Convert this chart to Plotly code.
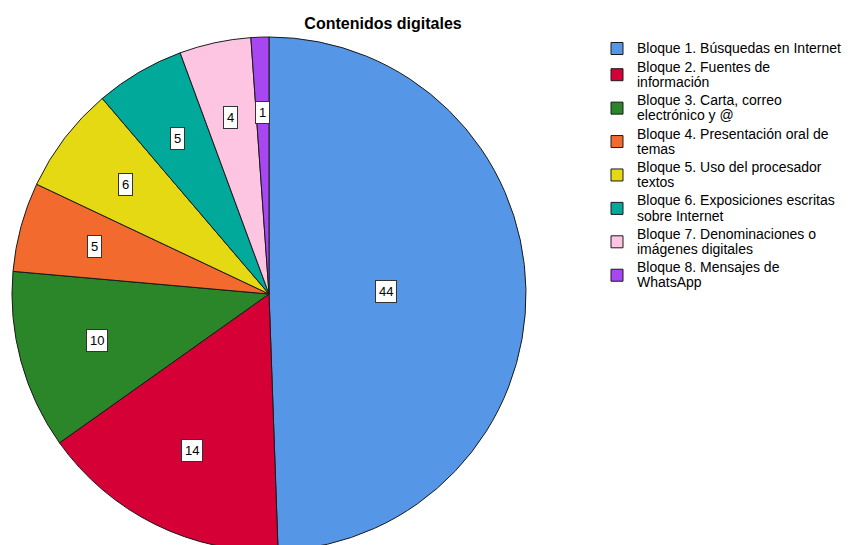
import math
import plotly.graph_objects as go

W, H = 851, 545

labels = [
    "Bloque 1. Búsquedas en Internet",
    "Bloque 2. Fuentes de\ninformación",
    "Bloque 3. Carta, correo\nelectrónico y @",
    "Bloque 4. Presentación oral de\ntemas",
    "Bloque 5. Uso del procesador\ntextos",
    "Bloque 6. Exposiciones escritas\nsobre Internet",
    "Bloque 7. Denominaciones o\nimágenes digitales",
    "Bloque 8. Mensajes de\nWhatsApp",
]
values = [44, 14, 10, 5, 6, 5, 4, 1]
colors = ["#5596E6", "#D50035", "#2A8629", "#F26A2D",
          "#E5D914", "#00A999", "#FEC5E2", "#A847F1"]

# pie geometry in figure pixels (page body adds an 8px offset)
radius = 257
cx, cy = 261, 286
dom_x = [(cx - radius) / W, (cx + radius) / W]
dom_y = [1 - (cy + radius) / H, 1 - (cy - radius) / H]


def legend_text(label):
    # big glyphs but tight line spacing, like the original legend
    return "<br>".join(f'<span style="font-size:14px">{ln}</span>'
                       for ln in label.split("\n"))


fig = go.Figure(
    go.Pie(
        labels=[legend_text(l) for l in labels],
        values=values,
        sort=False,
        direction="clockwise",
        rotation=0,
        textinfo="none",
        hoverinfo="label+value",
        marker=dict(colors=colors, line=dict(color="#1a1a1a", width=1)),
        domain=dict(x=dom_x, y=dom_y),
    )
)

# value boxes near the centroid of each slice
total = sum(values)
start = 0
annotations = []
for v in values:
    half = math.pi * v / total
    mid = 2 * math.pi * (start + v / 2) / total
    d = 1.06 * radius * 2 * math.sin(half) / (3 * half)
    px = cx + d * math.sin(mid)
    py = cy - d * math.cos(mid)
    annotations.append(dict(
        x=px / W, y=1 - py / H, xref="paper", yref="paper",
        xanchor="center", yanchor="middle",
        text=str(v), showarrow=False,
        font=dict(family="Arial, Liberation Sans", size=13, color="black"),
        bgcolor="white", bordercolor="#333333", borderwidth=1, borderpad=3,
    ))
    start += v

fig.update_layout(
    width=W,
    height=H,
    autosize=False,
    margin=dict(l=0, r=0, t=0, b=0),
    paper_bgcolor="white",
    plot_bgcolor="white",
    title=dict(
        text="<b>Contenidos digitales</b>",
        x=375 / W, xanchor="center",
        y=1 - 15 / H, yanchor="middle",
        font=dict(family="Arial, Liberation Sans", size=16, color="black"),
    ),
    legend=dict(
        x=589 / W, xanchor="left",
        y=1 - 26 / H, yanchor="top",
        font=dict(family="Arial, Liberation Sans", size=11.7, color="black"),
        bgcolor="rgba(0,0,0,0)",
        itemclick=False,
    ),
    annotations=annotations,
)

fig.write_html("out.html")
